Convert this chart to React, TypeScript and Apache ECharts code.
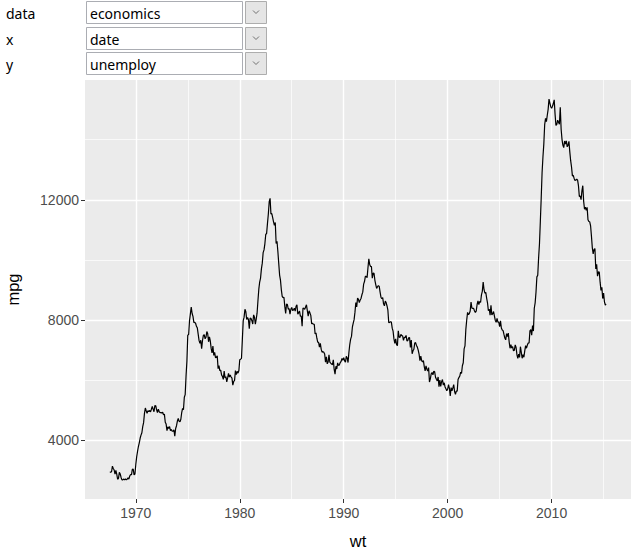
import React, { useEffect, useRef } from "react";
import * as echarts from "echarts";

// economics$unemploy, monthly from 1967-07 to 2015-04 (thousands)
const startYear = 1967;
const startMonth = 7;
const unemploy: number[] = [
  // 1967 (Jul-Dec)
  2944, 2945, 2958, 3143, 3066, 3018,
  // 1968
  2878, 3001, 2877, 2709, 2740, 2938, 2883, 2768, 2686, 2689, 2715, 2685,
  // 1969
  2718, 2692, 2712, 2758, 2713, 2816, 2868, 2856, 3040, 3049, 2856, 2884,
  // 1970
  3201, 3453, 3635, 3797, 3919, 4071, 4175, 4256, 4456, 4591, 4898, 5076,
  // 1971
  4986, 4903, 4987, 4959, 4996, 4949, 5035, 5134, 5042, 4954, 5161, 5154,
  // 1972
  5019, 4928, 5038, 4959, 4922, 4923, 4913, 4939, 4849, 4875, 4602, 4543,
  // 1973
  4326, 4452, 4394, 4459, 4329, 4363, 4305, 4305, 4350, 4144, 4396, 4489,
  // 1974
  4644, 4731, 4634, 4618, 4705, 4927, 5063, 5022, 5437, 5523, 6140, 6636,
  // 1975
  7501, 7520, 7978, 8210, 8433, 8220, 8127, 7928, 7923, 7897, 7794, 7744,
  // 1976
  7534, 7326, 7230, 7330, 7053, 7322, 7490, 7518, 7380, 7430, 7620, 7545,
  // 1977
  7280, 7443, 7307, 7059, 6911, 7134, 6829, 6925, 6751, 6763, 6815, 6386,
  // 1978
  6489, 6318, 6337, 6180, 6127, 6028, 6309, 6080, 6125, 5947, 6077, 6228,
  // 1979
  6109, 6173, 6109, 6069, 5840, 5959, 5996, 6320, 6190, 6296, 6238, 6325,
  // 1980
  6683, 6702, 6729, 7358, 7984, 8098, 8363, 8281, 8021, 8088, 8023, 7718,
  // 1981
  8071, 8051, 7982, 7869, 8174, 8098, 7863, 8036, 8230, 8646, 9029, 9267,
  // 1982
  9397, 9705, 9895, 10244, 10335, 10538, 10849, 10881, 11217, 11529, 11938, 12051,
  // 1983
  11534, 11545, 11408, 11268, 11154, 11246, 10548, 10623, 10282, 9887, 9499, 9331,
  // 1984
  9008, 8791, 8746, 8762, 8456, 8226, 8537, 8519, 8367, 8381, 8198, 8358,
  // 1985
  8423, 8321, 8339, 8395, 8302, 8460, 8513, 8196, 8248, 8298, 8128, 8138,
  // 1986
  7795, 8402, 8383, 8364, 8439, 8508, 8319, 8135, 8310, 8243, 8159, 7883,
  // 1987
  7892, 7865, 7862, 7542, 7574, 7398, 7268, 7261, 7102, 7227, 7035, 6936,
  // 1988
  6953, 6929, 6876, 6601, 6779, 6546, 6605, 6843, 6604, 6568, 6537, 6518,
  // 1989
  6682, 6359, 6205, 6468, 6375, 6577, 6495, 6511, 6590, 6630, 6725, 6667,
  // 1990
  6752, 6651, 6598, 6797, 6742, 6590, 6922, 7188, 7368, 7459, 7764, 7901,
  // 1991
  8015, 8265, 8586, 8439, 8736, 8692, 8586, 8666, 8722, 8842, 8931, 9198,
  // 1992
  9283, 9454, 9460, 9415, 9744, 10040, 9850, 9787, 9781, 9398, 9565, 9557,
  // 1993
  9325, 9183, 9056, 9110, 9149, 9121, 8930, 8763, 8714, 8750, 8542, 8477,
  // 1994
  8630, 8583, 8470, 8331, 7915, 7927, 7946, 7933, 7734, 7632, 7375, 7230,
  // 1995
  7375, 7187, 7153, 7645, 7430, 7427, 7527, 7484, 7478, 7328, 7426, 7423,
  // 1996
  7491, 7313, 7318, 7415, 7423, 7095, 7337, 6882, 6979, 7031, 7236, 7253,
  // 1997
  7158, 7102, 7000, 6873, 6655, 6799, 6655, 6608, 6656, 6454, 6308, 6476,
  // 1998
  6368, 6306, 6422, 5941, 6047, 6212, 6259, 6179, 6300, 6280, 6100, 6032,
  // 1999
  5976, 6111, 5783, 6004, 5796, 5951, 6025, 5838, 5915, 5778, 5716, 5653,
  // 2000
  5708, 5858, 5733, 5481, 5758, 5651, 5747, 5853, 5625, 5534, 5639, 5634,
  // 2001
  6023, 6089, 6141, 6271, 6226, 6484, 6583, 7042, 7142, 7694, 8003, 8258,
  // 2002
  8182, 8215, 8304, 8599, 8399, 8393, 8390, 8304, 8251, 8307, 8520, 8640,
  // 2003
  8520, 8618, 8588, 8842, 8957, 9266, 9011, 8896, 8921, 8732, 8576, 8317,
  // 2004
  8370, 8167, 8491, 8170, 8212, 8286, 8136, 7990, 7927, 8061, 7932, 7934,
  // 2005
  7784, 7980, 7737, 7672, 7651, 7524, 7406, 7345, 7553, 7453, 7566, 7279,
  // 2006
  7064, 7184, 7072, 7120, 6980, 7001, 7175, 7091, 6847, 6727, 6872, 6762,
  // 2007
  7116, 6927, 6731, 6850, 6766, 6979, 7149, 7067, 7170, 7237, 7240, 7645,
  // 2008
  7685, 7497, 7822, 7637, 8395, 8575, 8937, 9438, 9494, 10074, 10538, 11286,
  // 2009
  12058, 12898, 13426, 13853, 14499, 14707, 14601, 14814, 15009, 15352, 15219, 15098,
  // 2010
  15046, 15113, 15202, 15325, 14849, 14474, 14512, 14648, 14579, 14516, 15081, 14348,
  // 2011
  14013, 13820, 13737, 13957, 13855, 13962, 13763, 13818, 13948, 13594, 13302, 13093,
  // 2012
  12797, 12813, 12713, 12646, 12660, 12692, 12656, 12471, 12115, 12124, 12005, 12298,
  // 2013
  12471, 11950, 11689, 11760, 11654, 11751, 11335, 11279, 11270, 11136, 10787, 10404,
  // 2014
  10202, 10349, 10380, 9702, 9859, 9460, 9608, 9599, 9262, 8990, 9090, 8717,
  // 2015 (Jan-Apr)
  8903, 8610, 8504, 8526,
];

const xTicks = [1970, 1980, 1990, 2000, 2010];
const xMinor = [1975, 1985, 1995, 2005, 2015];
const yTicks = [4000, 8000, 12000];
const yMinor = [6000, 10000, 14000];

const controlLabels = ["data", "x", "y"];
const controlValues = ["economics", "date", "unemploy"];
const xTitle = "wt";
const yTitle = "mpg";

export default function App() {
  const ref = useRef<HTMLDivElement>(null);

  useEffect(() => {
    if (!ref.current) return;
    const chart = echarts.init(ref.current, undefined, { renderer: "svg" });

    const points = unemploy.map((v, i) => [startYear + (startMonth - 1 + i) / 12, v]);
    const xs = points.map((p) => p[0]);
    const ys = points.map((p) => p[1]);
    const xLo = Math.min(...xs);
    const xHi = Math.max(...xs);
    const yLo = Math.min(...ys);
    const yHi = Math.max(...ys);
    const xPad = (xHi - xLo) * 0.05;
    const yPad = (yHi - yLo) * 0.05;

    const gridLines = [
      ...xMinor.map((v) => ({ xAxis: v, lineStyle: { color: "#ffffff", width: 0.7, type: "solid" } })),
      ...yMinor.map((v) => ({ yAxis: v, lineStyle: { color: "#ffffff", width: 0.7, type: "solid" } })),
      ...xTicks.map((v) => ({ xAxis: v, lineStyle: { color: "#ffffff", width: 1.4, type: "solid" } })),
      ...yTicks.map((v) => ({ yAxis: v, lineStyle: { color: "#ffffff", width: 1.4, type: "solid" } })),
    ];

    const rowTops = [1, 27, 52];
    const ctrlFont = '14px "Noto Sans", "Open Sans", sans-serif';
    const controls: any[] = [];
    controlLabels.forEach((lab, i) => {
      const top = rowTops[i];
      controls.push({
        type: "text",
        style: { text: lab, x: 6, y: top + 12, fill: "#000", font: ctrlFont, textVerticalAlign: "middle" },
      });
      controls.push({
        type: "rect",
        shape: { x: 86.5, y: top + 0.5, width: 156, height: 22 },
        style: { fill: "#ffffff", stroke: "#abadb3", lineWidth: 1 },
      });
      controls.push({
        type: "text",
        style: { text: controlValues[i], x: 90, y: top + 12, fill: "#000", font: ctrlFont, textVerticalAlign: "middle" },
      });
      controls.push({
        type: "rect",
        shape: { x: 245.5, y: top + 0.5, width: 21, height: 22 },
        style: { fill: "#e5e5e5", stroke: "#adadad", lineWidth: 1 },
      });
      controls.push({
        type: "polyline",
        shape: { points: [[253, top + 9.5], [256, top + 12.5], [259, top + 9.5]] },
        style: { stroke: "#707070", lineWidth: 1, fill: "none" },
      });
    });

    const sans = '"Liberation Sans", Arial, sans-serif';

    chart.setOption({
      animation: false,
      backgroundColor: "#ffffff",
      grid: {
        left: 85,
        right: 4,
        top: 80,
        bottom: 53,
        show: true,
        backgroundColor: "#ebebeb",
        borderWidth: 0,
        containLabel: false,
        outerBoundsMode: "none",
      },
      xAxis: {
        type: "value",
        min: xLo - xPad,
        max: xHi + xPad,
        name: xTitle,
        nameLocation: "middle",
        nameGap: 33,
        nameTextStyle: { color: "#000", fontSize: 16.5, fontFamily: sans },
        axisLine: { show: false },
        splitLine: { show: false },
        axisTick: {
          show: true,
          customValues: xTicks,
          length: 4,
          lineStyle: { color: "#333333", width: 1 },
        },
        axisLabel: {
          customValues: xTicks,
          color: "#4d4d4d",
          fontSize: 14,
          fontFamily: sans,
          margin: 7,
          formatter: (v: number) => String(Math.round(v)),
        },
      },
      yAxis: {
        type: "value",
        min: yLo - yPad,
        max: yHi + yPad,
        name: yTitle,
        nameLocation: "middle",
        nameGap: 64,
        nameRotate: 90,
        nameTextStyle: { color: "#000", fontSize: 16.5, fontFamily: sans },
        axisLine: { show: false },
        splitLine: { show: false },
        axisTick: {
          show: true,
          customValues: yTicks,
          length: 4,
          lineStyle: { color: "#333333", width: 1 },
        },
        axisLabel: {
          customValues: yTicks,
          color: "#4d4d4d",
          fontSize: 14,
          fontFamily: sans,
          margin: 6,
          formatter: (v: number) => String(Math.round(v)),
        },
      },
      graphic: controls,
      series: [
        {
          type: "line",
          data: points,
          showSymbol: false,
          symbol: "none",
          z: 3,
          lineStyle: { color: "#000000", width: 1.2 },
          markLine: {
            silent: true,
            z: 1,
            symbol: ["none", "none"],
            label: { show: false },
            data: gridLines,
          },
        },
      ],
    });

    return () => chart.dispose();
  }, []);

  return (
    <div style={{ position: "fixed", left: 0, top: 0, width: 635, height: 552, background: "#fff" }}>
      <div ref={ref} style={{ width: 635, height: 552 }} />
    </div>
  );
}
